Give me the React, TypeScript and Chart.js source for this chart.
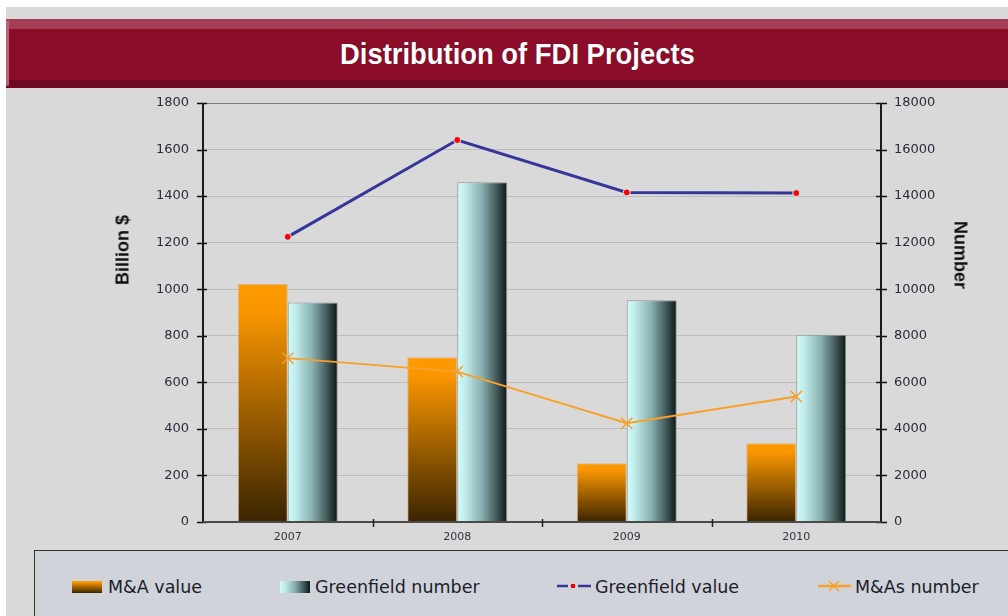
import React, { useEffect, useRef } from 'react';
import { Chart, registerables } from 'chart.js';

Chart.register(...registerables);

// ---- data ----
const years = ['2007', '2008', '2009', '2010'];
const maValue = [1022, 708, 252, 338]; // Billion $ (left axis)
const greenfieldNumber = [9430, 14600, 9530, 8040]; // Number (right axis)
const greenfieldValue = [1225, 1641, 1416, 1413]; // Billion $ (left axis)
const masNumber = [7040, 6460, 4240, 5390]; // Number (right axis)
const leftTicks = [0, 200, 400, 600, 800, 1000, 1200, 1400, 1600, 1800];
const rightTicks = [0, 2000, 4000, 6000, 8000, 10000, 12000, 14000, 16000, 18000];

const CAT_PCT = 0.59;
const TICK_FONT = '"DejaVu Sans", sans-serif';

const maGradient = (ctx: any) => {
  const chart = ctx.chart;
  const area = chart.chartArea;
  if (!area || ctx.type !== 'data') return '#ff9900';
  const ys = chart.scales.y;
  const top = ys.getPixelForValue(ctx.raw);
  const base = ys.getPixelForValue(0);
  const g = chart.ctx.createLinearGradient(0, top, 0, base);
  g.addColorStop(0, '#ff9b00');
  g.addColorStop(0.12, '#f89500');
  g.addColorStop(1, '#3a2400');
  return g;
};

const gnGradient = (ctx: any) => {
  const chart = ctx.chart;
  const area = chart.chartArea;
  if (!area || ctx.type !== 'data') return '#86aeae';
  const xs = chart.scales.x;
  const center = xs.getPixelForValue(ctx.dataIndex);
  const catW = (area.right - area.left) / years.length;
  const w = (catW * CAT_PCT) / 2;
  const g = chart.ctx.createLinearGradient(center, 0, center + w, 0);
  g.addColorStop(0, '#d0fcfb');
  g.addColorStop(0.15, '#c2eeed');
  g.addColorStop(0.5, '#86aeae');
  g.addColorStop(0.8, '#3f5454');
  g.addColorStop(1, '#0c1616');
  return g;
};

const axesPlugin = {
  id: 'customAxes',
  afterDraw(chart: any) {
    const { ctx, chartArea, scales } = chart;
    const { left, right, top, bottom } = chartArea;
    const line = (x1: number, y1: number, x2: number, y2: number) => {
      ctx.beginPath();
      ctx.moveTo(x1, y1);
      ctx.lineTo(x2, y2);
      ctx.stroke();
    };
    ctx.save();
    ctx.strokeStyle = '#111111';
    ctx.lineWidth = 1.5;
    scales.y.ticks.forEach((t: any) => {
      const p = Math.round(scales.y.getPixelForValue(t.value)) + 0.5;
      line(left - 6, p, left + 4, p);
    });
    scales.y1.ticks.forEach((t: any) => {
      const p = Math.round(scales.y1.getPixelForValue(t.value)) + 0.5;
      line(right - 5, p, right + 6, p);
    });
    ctx.lineWidth = 2;
    ctx.strokeStyle = '#1a1a1a';
    line(left, top, left, bottom + 1);
    line(right, top, right, bottom + 1);
    ctx.strokeStyle = '#4a4a4a';
    line(left, bottom, right, bottom);
    const catW = (right - left) / years.length;
    ctx.lineWidth = 1.5;
    ctx.strokeStyle = '#222222';
    for (let i = 1; i < years.length; i++) {
      const x = Math.round(left + i * catW) + 0.5;
      line(x, bottom - 3, x, bottom + 5);
    }
    ctx.restore();
  },
};

function FdiChart() {
  const ref = useRef<HTMLCanvasElement | null>(null);
  useEffect(() => {
    if (!ref.current) return;
    const chart = new Chart(ref.current, {
      type: 'bar',
      data: {
        labels: years,
        datasets: [
          {
            type: 'line',
            label: 'Greenfield value',
            data: greenfieldValue,
            yAxisID: 'y',
            borderColor: '#35359a',
            borderWidth: 3,
            pointStyle: 'circle',
            pointRadius: 3.5,
            pointBackgroundColor: '#ff0000',
            pointBorderColor: '#c8f0f0',
            pointBorderWidth: 1,
            tension: 0,
            order: 1,
          },
          {
            type: 'line',
            label: 'M&As number',
            data: masNumber,
            yAxisID: 'y1',
            borderColor: '#f8a02a',
            borderWidth: 2,
            pointStyle: 'crossRot',
            pointRadius: 8,
            pointBorderColor: '#f8a02a',
            pointBorderWidth: 1.5,
            tension: 0,
            order: 1,
          },
          {
            type: 'bar',
            label: 'M&A value',
            data: maValue,
            yAxisID: 'y',
            backgroundColor: maGradient,
            borderColor: 'rgba(230,160,90,0.6)',
            borderWidth: 1,
            categoryPercentage: CAT_PCT,
            barPercentage: 1,
            order: 2,
          },
          {
            type: 'bar',
            label: 'Greenfield number',
            data: greenfieldNumber,
            yAxisID: 'y1',
            backgroundColor: gnGradient,
            borderColor: 'rgba(120,120,120,0.7)',
            borderWidth: 1,
            categoryPercentage: CAT_PCT,
            barPercentage: 1,
            order: 2,
          },
        ] as any,
      },
      options: {
        responsive: false,
        animation: false,
        layout: { padding: { top: 103, left: 0, right: 0, bottom: 0 } },
        plugins: {
          legend: { display: false },
          title: { display: false },
          tooltip: { enabled: false },
        },
        scales: {
          x: {
            offset: true,
            grid: { display: false, drawTicks: false },
            border: { display: false },
            ticks: {
              color: '#333340',
              font: { family: TICK_FONT, size: 11 },
              padding: 9,
            },
            afterFit: (s: any) => {
              s.height = 94;
            },
          },
          y: {
            position: 'left',
            min: leftTicks[0],
            max: leftTicks[leftTicks.length - 1],
            ticks: {
              stepSize: leftTicks[1] - leftTicks[0],
              color: '#2b2b3b',
              font: { family: TICK_FONT, size: 13 },
              padding: 14,
              callback: (v: any) => String(v),
            },
            grid: {
              drawTicks: false,
              color: (c: any) => (c.tick && c.tick.value === leftTicks[leftTicks.length - 1] ? '#7a7a7a' : '#bdbdbd'),
              lineWidth: 1,
            },
            border: { display: false },
            afterFit: (s: any) => {
              s.width = 203;
            },
          },
          y1: {
            position: 'right',
            min: rightTicks[0],
            max: rightTicks[rightTicks.length - 1],
            ticks: {
              stepSize: rightTicks[1] - rightTicks[0],
              color: '#2b2b3b',
              font: { family: TICK_FONT, size: 13 },
              padding: 13,
              callback: (v: any) => String(v),
            },
            grid: { display: false, drawTicks: false },
            border: { display: false },
            afterFit: (s: any) => {
              s.width = 127;
            },
          },
        },
      } as any,
      plugins: [axesPlugin],
    });
    return () => chart.destroy();
  }, []);
  return (
    <canvas
      ref={ref}
      width={1008}
      height={616}
      style={{ position: 'absolute', left: 0, top: 0, width: 1008, height: 616 }}
    />
  );
}

const legendText: React.CSSProperties = {
  position: 'absolute',
  top: 577,
  fontFamily: '"DejaVu Sans", sans-serif',
  fontSize: 17.5,
  lineHeight: '20px',
  color: '#1c1c2a',
  whiteSpace: 'nowrap',
};

export default function App() {
  return (
    <div
      style={{
        position: 'fixed',
        left: 0,
        top: 0,
        width: 1008,
        height: 616,
        overflow: 'hidden',
        background: '#ffffff',
        fontFamily: '"Liberation Sans", Arial, sans-serif',
      }}
    >
      <style>{'body{margin:0}'}</style>
      {/* gray panel */}
      <div style={{ position: 'absolute', left: 6, top: 7, right: 0, bottom: 0, background: '#d9d9d9' }} />
      {/* title bar */}
      <div style={{ position: 'absolute', left: 6, top: 19, right: 0, height: 10, background: '#a43d56' }} />
      <div style={{ position: 'absolute', left: 6, top: 29, right: 0, height: 51, background: '#8b0d2a' }} />
      <div style={{ position: 'absolute', left: 6, top: 80, right: 0, height: 8, background: '#700a22' }} />
      <div style={{ position: 'absolute', left: 6, top: 20, width: 3, height: 66, background: '#b8647a', borderRadius: 2 }} />
      <div
        style={{
          position: 'absolute',
          left: 340,
          top: 40,
          fontSize: 29,
          lineHeight: '29px',
          fontWeight: 'bold',
          color: '#ffffff',
          whiteSpace: 'nowrap',
          transform: 'scaleX(0.945)',
          transformOrigin: 'left center',
          textShadow: '0 0 1px rgba(40,0,20,0.6)',
        }}
      >
        Distribution of FDI Projects
      </div>

      <FdiChart />

      {/* axis titles */}
      <div
        style={{
          position: 'absolute',
          left: 123,
          top: 250,
          transform: 'translate(-50%, -50%) rotate(-90deg)',
          fontSize: 18,
          fontWeight: 'bold',
          color: '#111111',
          whiteSpace: 'nowrap',
        }}
      >
        Billion $
      </div>
      <div
        style={{
          position: 'absolute',
          left: 960,
          top: 255,
          transform: 'translate(-50%, -50%) rotate(90deg)',
          fontSize: 18,
          fontWeight: 'bold',
          color: '#111111',
          whiteSpace: 'nowrap',
        }}
      >
        Number
      </div>

      {/* legend box */}
      <div
        style={{
          position: 'absolute',
          left: 34,
          top: 550,
          width: 1000,
          height: 100,
          background: '#d0d3da',
          border: '1.5px solid #333333',
          boxSizing: 'border-box',
        }}
      />
      <div
        style={{
          position: 'absolute',
          left: 72,
          top: 581,
          width: 30,
          height: 12,
          background: 'linear-gradient(to bottom, #ff9b00 0%, #f89500 12%, #3a2400 100%)',
        }}
      />
      <div style={{ ...legendText, left: 108 }}>M&amp;A value</div>
      <div
        style={{
          position: 'absolute',
          left: 280,
          top: 581,
          width: 30,
          height: 12,
          background: 'linear-gradient(to right, #d0fcfb 0%, #c2eeed 15%, #86aeae 50%, #3f5454 80%, #0c1616 100%)',
        }}
      />
      <div style={{ ...legendText, left: 315 }}>Greenfield number</div>
      <svg style={{ position: 'absolute', left: 557, top: 580 }} width={34} height={12}>
        <line x1={0} y1={6} x2={11} y2={6} stroke="#35359a" strokeWidth={2.5} />
        <line x1={21} y1={6} x2={34} y2={6} stroke="#35359a" strokeWidth={2.5} />
        <circle cx={16} cy={6} r={3} fill="#ff0000" stroke="#c8f0f0" strokeWidth={1} />
      </svg>
      <div style={{ ...legendText, left: 595 }}>Greenfield value</div>
      <svg style={{ position: 'absolute', left: 818, top: 580 }} width={33} height={12}>
        <line x1={0} y1={6} x2={33} y2={6} stroke="#f8a02a" strokeWidth={2.5} />
        <line x1={11} y1={1} x2={21} y2={11} stroke="#f8a02a" strokeWidth={1.5} />
        <line x1={11} y1={11} x2={21} y2={1} stroke="#f8a02a" strokeWidth={1.5} />
      </svg>
      <div style={{ ...legendText, left: 855 }}>M&amp;As number</div>
    </div>
  );
}
